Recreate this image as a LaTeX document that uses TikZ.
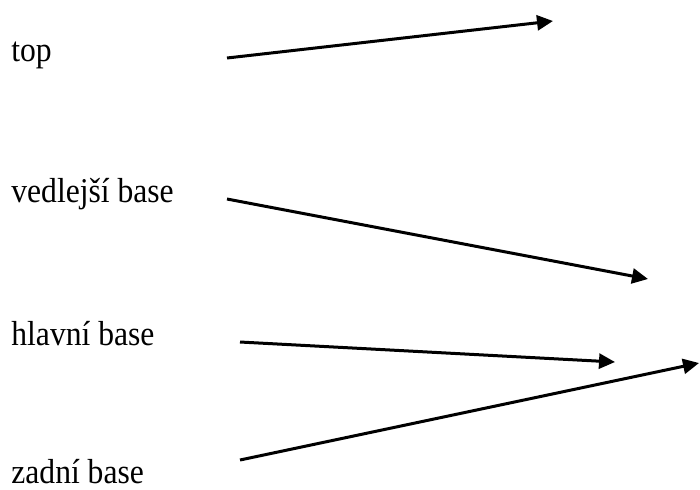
\documentclass[tikz,border=0pt]{standalone}
\usepackage{fontspec}
\setmainfont{Liberation Serif}
\usetikzlibrary{arrows.meta}
\newcommand{\vstretch}[1]{\scalebox{1}[1.1]{#1}}
\begin{document}
\begin{tikzpicture}[x=0.5pt,y=-0.5pt,
  lbl/.style={anchor=base west,inner sep=0pt,font=\fontsize{15.8pt}{19pt}\selectfont},
  arr/.style={line width=1.5pt,-{Triangle[length=8pt,width=7.5pt]}}]
\useasboundingbox (0,0) rectangle (700,489);
\node[lbl] (top) at (11,61) {\vstretch{top}};
\node[lbl] (ved) at (11,202) {\vstretch{vedlejší base}};
\node[lbl] (hla) at (11,345) {\vstretch{hlavní base}};
\node[lbl] (zad) at (11,483) {\vstretch{zadní base}};
\coordinate (s1) at (227,58);  \coordinate (e1) at (553,21);
\coordinate (s2) at (227,199); \coordinate (e2) at (648,279);
\coordinate (s3) at (240,342); \coordinate (e3) at (615,362);
\coordinate (s4) at (240,460); \coordinate (e4) at (699,363);
\draw[arr] (s1) -- (e1);
\draw[arr] (s2) -- (e2);
\draw[arr] (s3) -- (e3);
\draw[arr] (s4) -- (e4);
\end{tikzpicture}
\end{document}
